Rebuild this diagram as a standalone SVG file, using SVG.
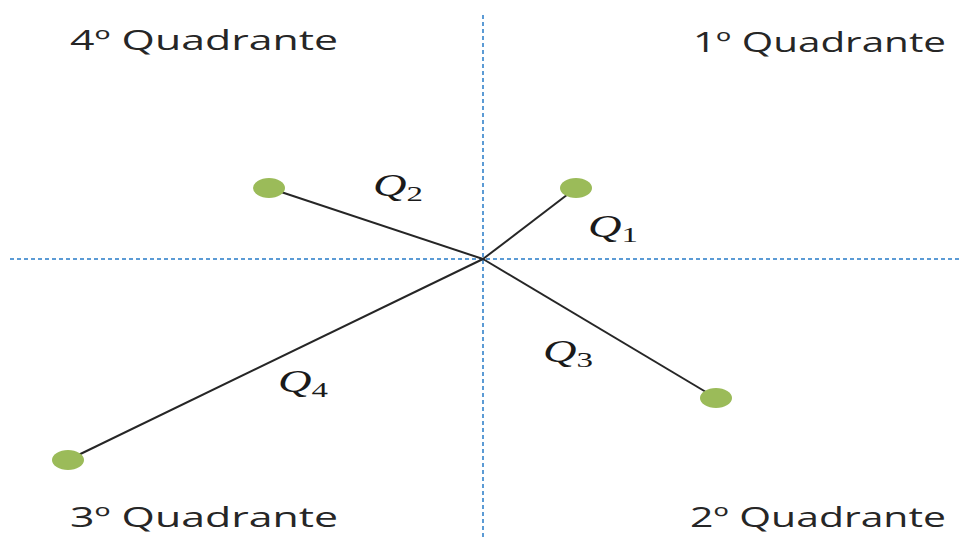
<svg xmlns="http://www.w3.org/2000/svg" width="962" height="539" viewBox="0 0 962 539">
<style>
.axis{stroke:#5b9bd5;stroke-width:2;stroke-dasharray:4 3;fill:none}
.seg{stroke:#262626;stroke-width:2;fill:none}
.dot{fill:#9bbb59}
.quad{font-family:"Open Sans","Liberation Sans",sans-serif;font-size:27px;fill:#262626}
.q{font-family:"Liberation Serif",serif;font-style:italic;font-size:31px;fill:#1a1a1a}
.sub{font-size:22px;font-style:normal}
</style>
<rect width="962" height="539" fill="#fff"/>
<g id="axes">
<line class="axis" x1="483" y1="15" x2="483" y2="539"/>
<line class="axis" x1="10" y1="259" x2="962" y2="259"/>
</g>
<g id="connectors">
<line class="seg" x1="483" y1="259" x2="269" y2="188"/>
<line class="seg" x1="483" y1="259" x2="576" y2="188"/>
<line class="seg" x1="483" y1="259" x2="716" y2="398"/>
<line class="seg" x1="483" y1="259" x2="68" y2="460"/>
</g>
<g id="p2"><ellipse class="dot" cx="269" cy="188" rx="16" ry="10"/></g>
<g id="p1"><ellipse class="dot" cx="576" cy="188" rx="16" ry="10"/></g>
<g id="p3"><ellipse class="dot" cx="716" cy="398" rx="16" ry="10"/></g>
<g id="p4"><ellipse class="dot" cx="68" cy="460" rx="16" ry="10"/></g>
<g id="labels">
<text class="q" x="373" y="196" textLength="50" lengthAdjust="spacingAndGlyphs">Q<tspan class="sub" dy="5">2</tspan></text>
<text class="q" x="588" y="237" textLength="50" lengthAdjust="spacingAndGlyphs">Q<tspan class="sub" dy="5">1</tspan></text>
<text class="q" x="543" y="362" textLength="50" lengthAdjust="spacingAndGlyphs">Q<tspan class="sub" dy="5">3</tspan></text>
<text class="q" x="278" y="392" textLength="50" lengthAdjust="spacingAndGlyphs">Q<tspan class="sub" dy="5">4</tspan></text>
</g>
<g id="quadrants">
<text class="quad" x="70" y="50" textLength="268" lengthAdjust="spacingAndGlyphs">4º Quadrante</text>
<text class="quad" x="693" y="52" textLength="253" lengthAdjust="spacingAndGlyphs">1º Quadrante</text>
<text class="quad" x="70" y="527" textLength="268" lengthAdjust="spacingAndGlyphs">3º Quadrante</text>
<text class="quad" x="690" y="527" textLength="256" lengthAdjust="spacingAndGlyphs">2º Quadrante</text>
</g>
</svg>
